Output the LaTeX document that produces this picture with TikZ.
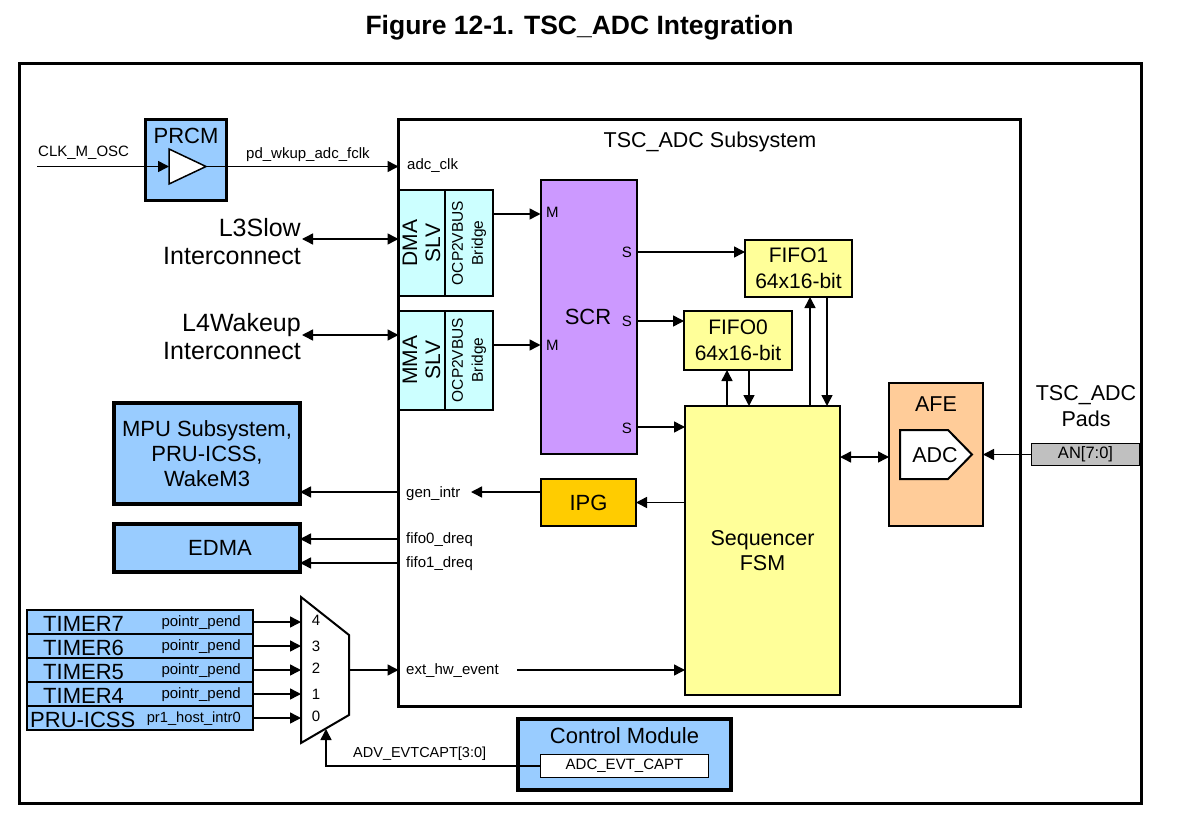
\documentclass[tikz,border=0pt]{standalone}
\usepackage{fontspec}
\setmainfont{Liberation Sans}
\usetikzlibrary{arrows.meta}
\definecolor{cblue}{HTML}{99CCFF}
\definecolor{ccyan}{HTML}{CCFFFF}
\definecolor{cpurp}{HTML}{CC99FF}
\definecolor{cyel}{HTML}{FFFF99}
\definecolor{cipg}{HTML}{FFCC00}
\definecolor{cafe}{HTML}{FFCC99}
\definecolor{cgray}{HTML}{C0C0C0}
\newcommand\fsml{\fontsize{15}{18}\selectfont}
\newcommand\fmid{\fontsize{21.5}{26}\selectfont}
\newcommand\fbig{\fontsize{25}{28}\selectfont}
\begin{document}
\begin{tikzpicture}[x=1pt,y=-1pt,
  box/.style={draw, line width=2pt, inner sep=0pt, outer sep=0pt},
  dim/.style 2 args={minimum width=#1pt, minimum height=#2pt},
  conn/.style={line width=1.5pt, -{Triangle[length=11pt,width=11pt]}},
  conntwo/.style={line width=1.5pt, {Triangle[length=11pt,width=11pt]}-{Triangle[length=11pt,width=11pt]}},
  plain/.style={line width=1.5pt},
  lbl/.style={anchor=base west, inner sep=0pt, font=\fsml},
  lble/.style={anchor=base east, inner sep=0pt, font=\fsml},
  timer/.style={box, fill=cblue, dim={226}{24}},
  tname/.style={anchor=base west, inner sep=0pt, font=\fontsize{22}{26}\selectfont},
]
\useasboundingbox (0,0) rectangle (1178,824);
\fill[white] (0,0) rectangle (1178,824);

% title
\node[anchor=base, inner sep=0pt, font=\bfseries\fontsize{26.5}{30}\selectfont] (title) at (579.5,35) {Figure 12-1. TSC\_ADC Integration};

% frames
\node[box, line width=3pt, dim={1122}{740}] (frame) at (580.5,433.5) {};
\node[box, line width=3pt, dim={622}{587}] (sub) at (709.5,413) {};
\node[anchor=base, inner sep=0pt, font=\fmid] (subt) at (710,148) {TSC\_ADC Subsystem};

% PRCM
\node[box, line width=3.5pt, fill=cblue, dim={81}{81}] (prcm) at (186,160) {};
\node[anchor=base, inner sep=0pt, font=\fontsize{22}{26}\selectfont] (prcmt) at (186,143) {PRCM};
\draw[line width=1.5pt, fill=white] (169,149) -- (169,184) -- (206,166.5) -- cycle;
\coordinate (triL) at (169,166.5);
\coordinate (triR) at (206,166.5);
\coordinate (clkin) at (37,166.5);
\draw[conn] (clkin) -- (triL);
\draw[conn] (triR) -- (sub.west |- triR);
\node[lbl] (clkl) at (38,157) {CLK\_M\_OSC};
\node[lbl] (fclk) at (246,158) {pd\_wkup\_adc\_fclk};
\node[lbl] (adcclk) at (407,170) {adc\_clk};

% DMA / MMA
\node[box, fill=ccyan, dim={46}{106}] (dmaslv) at (421.5,243) {};
\node[box, fill=ccyan, dim={48}{106}] (dmabr) at (469,243) {};
\node[rotate=90, align=center, inner sep=0pt, font=\fontsize{21}{23}\selectfont] at (dmaslv.center) {DMA\\SLV};
\node[rotate=90, align=center, inner sep=0pt, font=\fontsize{15.5}{20}\selectfont] at (dmabr.center) {OCP2VBUS\\Bridge};
\node[box, fill=ccyan, dim={46}{99}] (mmaslv) at (421.5,360) {};
\node[box, fill=ccyan, dim={48}{99}] (mmabr) at (469,360) {};
\node[rotate=90, align=center, inner sep=0pt, font=\fontsize{21}{23}\selectfont] at (mmaslv.center) {MMA\\SLV};
\node[rotate=90, align=center, inner sep=0pt, font=\fontsize{15.5}{20}\selectfont] at (mmabr.center) {OCP2VBUS\\Bridge};

\node[anchor=east, align=right, inner sep=0pt, font=\fbig] (l3) at (301,242) {L3Slow\\Interconnect};
\node[anchor=east, align=right, inner sep=0pt, font=\fbig] (l4) at (301,337) {L4Wakeup\\Interconnect};
\draw[conntwo] (302,239) -- (dmaslv.west |- 0,239);
\draw[conntwo] (302,335) -- (mmaslv.west |- 0,335);

% SCR
\node[box, fill=cpurp, dim={96}{274}] (scr) at (588.5,316.5) {};
\node[inner sep=0pt, font=\fontsize{22}{26}\selectfont] (scrt) at (588,317) {SCR};
\node[lbl] at (546,217) {M};
\node[lbl] at (546,350) {M};
\node[lble] at (632,257) {S};
\node[lble] at (632,326) {S};
\node[lble] at (632,433) {S};
\draw[conn] (dmabr.east |- 0,214) -- (scr.west |- 0,214);
\draw[conn] (mmabr.east |- 0,345) -- (scr.west |- 0,345);

% FIFOs
\node[box, fill=cyel, dim={107}{57}, align=center, font=\fontsize{21}{26}\selectfont] (fifo1) at (798.5,268.5) {FIFO1\\64x16-bit};
\node[box, fill=cyel, dim={108}{59}, align=center, font=\fontsize{21}{26}\selectfont] (fifo0) at (738,340.5) {FIFO0\\64x16-bit};

% Sequencer
\node[box, fill=cyel, dim={155}{289}, align=center, font=\fontsize{21.5}{25}\selectfont] (seq) at (762.5,550.5) {Sequencer\\FSM};

\draw[conn] (scr.east |- 0,252) -- (fifo1.west |- 0,252);
\draw[conn] (scr.east |- 0,321) -- (fifo0.west |- 0,321);
\draw[conn] (scr.east |- 0,427) -- (seq.west |- 0,427);

\draw[conn] (seq.north -| 727,0) -- (fifo0.south -| 727,0);
\draw[conn] (fifo0.south -| 749,0) -- (seq.north -| 749,0);
\draw[conn] (seq.north -| 810,0) -- (fifo1.south -| 810,0);
\draw[conn] (fifo1.south -| 827,0) -- (seq.north -| 827,0);

% AFE
\node[box, fill=cafe, dim={94}{143}] (afe) at (936,454.5) {};
\node[anchor=base, inner sep=0pt, font=\fmid] (afet) at (936,411) {AFE};
\draw[line width=2pt, fill=white] (900,430) -- (948,430) -- (972,454.5) -- (948,479) -- (900,479) -- cycle;
\node[inner sep=0pt, font=\fmid] (adc) at (935,455.5) {ADC};
\draw[conntwo] (seq.east |- 0,457) -- (afe.west |- 0,457);

% Pads
\node[align=center, inner sep=0pt, font=\fmid] (pads) at (1086,406) {TSC\_ADC\\Pads};
\node[box, line width=1.5pt, fill=cgray, dim={108}{22}, font=\fontsize{16.5}{19}\selectfont] (an) at (1085.5,454.5) {AN[7:0]};
\draw[conn] (an.west) -- (afe.east |- an.west);

% IPG
\node[box, fill=cipg, dim={95}{47}, font=\fontsize{22}{26}\selectfont] (ipg) at (588.5,502.5) {IPG};
\draw[conn] (seq.west |- 0,502.5) -- (ipg.east |- 0,502.5);
\coordinate (gitip) at (471,492);
\draw[conn] (ipg.west |- 0,492) -- (gitip);

% MPU / EDMA
\node[box, line width=4pt, fill=cblue, dim={186}{101}, align=center, font=\fontsize{22}{25}\selectfont] (mpu) at (207,453.5) {MPU Subsystem,\\PRU-ICSS,\\WakeM3};
\node[box, line width=4pt, fill=cblue, dim={186}{48}, font=\fontsize{22}{26}\selectfont] (edma) at (207,548) {\hspace{26pt}EDMA};
\draw[conn] (sub.west |- 0,492) -- (mpu.east |- 0,492);
\draw[conn] (sub.west |- 0,539) -- (edma.east |- 0,539);
\draw[conn] (sub.west |- 0,563) -- (edma.east |- 0,563);
\node[lbl] (gil) at (406,497) {gen\_intr};
\node[lbl] (f0l) at (406,543) {fifo0\_dreq};
\node[lbl] (f1l) at (406,567) {fifo1\_dreq};
\node[lbl] (ehl) at (406,674) {ext\_hw\_event};
\coordinate (ehw) at (517,670);
\draw[conn] (ehw) -- (seq.west |- ehw);

% Timers
\node[timer] (t7) at (140,622) {};
\node[timer] (t6) at (140,646) {};
\node[timer] (t5) at (140,670) {};
\node[timer] (t4) at (140,694) {};
\node[timer] (pru) at (140,718) {};
\node[tname] at (43,631) {TIMER7};
\node[tname] at (43,655) {TIMER6};
\node[tname] at (43,679) {TIMER5};
\node[tname] at (43,703) {TIMER4};
\node[tname] at (30,727) {PRU-ICSS};
\node[lble] at (241,626) {pointr\_pend};
\node[lble] at (241,650) {pointr\_pend};
\node[lble] at (241,674) {pointr\_pend};
\node[lble] at (241,698) {pointr\_pend};
\node[lble, font=\fontsize{14.7}{17}\selectfont] at (241,722) {pr1\_host\_intr0};

% Mux
\draw[line width=2pt, fill=white] (301,597) -- (349,635) -- (349,715) -- (301,743) -- cycle;
\coordinate (m4) at (301,622);
\coordinate (m3) at (301,646);
\coordinate (m2) at (301,670);
\coordinate (m1) at (301,694);
\coordinate (m0) at (301,718);
\coordinate (mout) at (349,670);
\coordinate (mbot) at (326,729);
\draw[conn] (t7.east) -- (m4);
\draw[conn] (t6.east) -- (m3);
\draw[conn] (t5.east) -- (m2);
\draw[conn] (t4.east) -- (m1);
\draw[conn] (pru.east) -- (m0);
\node[inner sep=0pt, font=\fsml] at (316,620) {4};
\node[inner sep=0pt, font=\fsml] at (316,646) {3};
\node[inner sep=0pt, font=\fsml] at (316,668) {2};
\node[inner sep=0pt, font=\fsml] at (316,694) {1};
\node[inner sep=0pt, font=\fsml] at (316,716) {0};
\draw[conn] (mout) -- (sub.west |- mout);

% Control module
\node[box, line width=4pt, fill=cblue, dim={213}{71}] (ctrl) at (624.5,754.5) {};
\node[anchor=base, inner sep=0pt, font=\fontsize{22}{26}\selectfont] (ctrlt) at (624.5,743) {Control Module};
\node[box, line width=1.5pt, fill=white, dim={168}{23}, font=\fsml] (evt) at (624.5,766) {ADC\_EVT\_CAPT};
\draw[conn] (evt.west) -| (mbot);
\node[lbl, font=\fontsize{14.5}{17}\selectfont] (advl) at (353,757) {ADV\_EVTCAPT[3:0]};
\end{tikzpicture}
\end{document}
